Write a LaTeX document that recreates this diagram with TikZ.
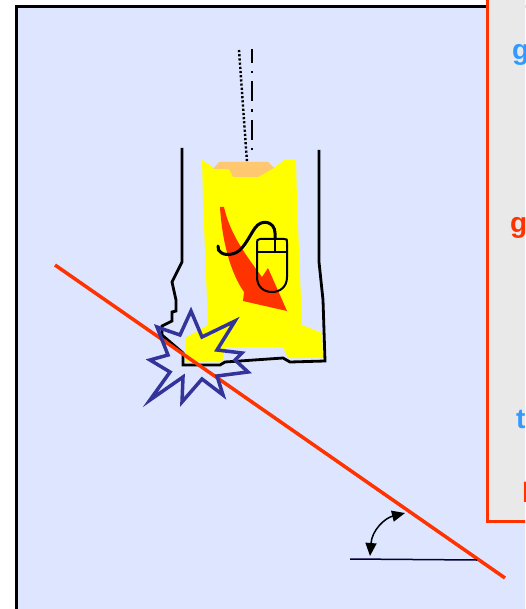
\documentclass[tikz,border=0pt]{standalone}
\usepackage{fontspec}
\newfontfamily\panelfont{Liberation Sans}
\usetikzlibrary{arrows.meta}
\definecolor{paper}{HTML}{DDE5FF}
\definecolor{panelgray}{HTML}{E9E9E9}
\definecolor{cutred}{HTML}{FF3300}
\definecolor{labelblue}{HTML}{3399FF}
\definecolor{starblue}{HTML}{333399}
\definecolor{peach}{HTML}{FFC870}
\definecolor{padyellow}{HTML}{FFFF00}
\tikzset{
  housing/.style={draw=black, line width=2.8pt, line join=miter},
  cutline/.style={draw=cutred, line width=3.5pt},
  burst/.style={draw=starblue, line width=3.5pt, line join=miter},
  panellabel/.style={inner sep=0pt, anchor=base west, font=\panelfont\bfseries\fontsize{28}{32}\selectfont},
  angletip/.tip={Triangle[length=13pt,width=11pt]}
}
\begin{document}
\begin{tikzpicture}[x=1pt,y=-1pt]
\useasboundingbox (0,0) rectangle (525,609);
\clip (0,0) rectangle (525,609);
\fill[white] (0,0) rectangle (525,609);

% light blue working area
\filldraw[fill=paper, draw=black, line width=3pt] (16,7) rectangle (560,640);

% axis lines above the tool
\draw[line width=2.4pt, dash pattern=on 2.2pt off 2pt] (239,50) -- (247,162);
\draw[line width=2.2pt, dash pattern=on 20pt off 8pt on 2.5pt off 8pt, dash phase=6pt] (252,49) -- (252,155);

% yellow pad
\fill[padyellow] (202,160) -- (214,168) -- (274,168) -- (284,160) -- (296,160)
  -- (297,200) -- (302,325) -- (322,333) -- (323,358) -- (288,358) -- (283,347)
  -- (225,347) -- (222,362) -- (185,362) -- (185,338) -- (208,325) -- (203,200) -- cycle;
% peach cap on top of the pad
\fill[peach] (213,169) -- (219,162) -- (268,162) -- (274,168) -- (258,177)
  -- (233,177) -- (229,169) -- cycle;

% curved red arrow
\fill[cutred] (220,207) .. controls (222,240) and (230,272) .. (244,292)
  -- (243,301) -- (287,311) -- (268,268) -- (262,277)
  .. controls (248,258) and (230,235) .. (224,207) -- cycle;

% mouse icon
\draw[line width=2pt] (257,243) .. controls (257,240) .. (260,239) -- (284,239)
  .. controls (287,239) .. (287,243) -- (287,277)
  .. controls (287,287) and (280,292) .. (272,292)
  .. controls (264,292) and (257,287) .. (257,277) -- cycle;
\draw[line width=2pt] (257,252) -- (287,252);
\draw[line width=2pt] (275,239) -- (275,252);
\draw[line width=3pt, line cap=round] (275,239) -- (275,233)
  .. controls (275,222) and (262,218) .. (255,228)
  .. controls (248,238) and (243,252) .. (232,254)
  .. controls (224,256) and (217,252) .. (218,246);

% tool housing outline
\draw[housing] (182,148) -- (182,262) -- (172,282) -- (176,300) -- (176,311)
  -- (172,312) -- (172,321) -- (162,326) -- (162,335) -- (183,353) -- (183,365)
  -- (220,365) -- (225,362) -- (283,358) -- (290,362) -- (325,361)
  -- (323,300) -- (319,262) -- (319,150);

% cutting line
\draw[cutline] (55,265) -- (505,578);

% collision burst
\draw[burst] (191,311) -- (202,337) -- (235,321) -- (217,350) -- (242,353)
  -- (235,360) -- (248,372) -- (217,376) -- (223,395) -- (202,379) -- (182,402)
  -- (183,377) -- (150,400) -- (170,372) -- (150,360) -- (168,355) -- (157,327)
  -- (180,335) -- cycle;

% angle marker
\draw[line width=1.5pt, draw=black!80!blue] (350,559) -- (477,560);
\draw[line width=1.5pt, angletip-angletip] (370,556) .. controls (372,530) and (385,518) .. (405,513);

% side panel
\filldraw[fill=panelgray, draw=cutred, line width=3pt] (487,-10) rectangle (560,521);
\node[panellabel, text=labelblue] (lbla) at (512,60) {g};
\node[panellabel, text=cutred] (lblb) at (510,233) {g};
\node[panellabel, text=labelblue] (lblc) at (516,428) {t};
\node[panellabel, text=cutred] (lbld) at (522,502) {l};
\end{tikzpicture}
\end{document}
